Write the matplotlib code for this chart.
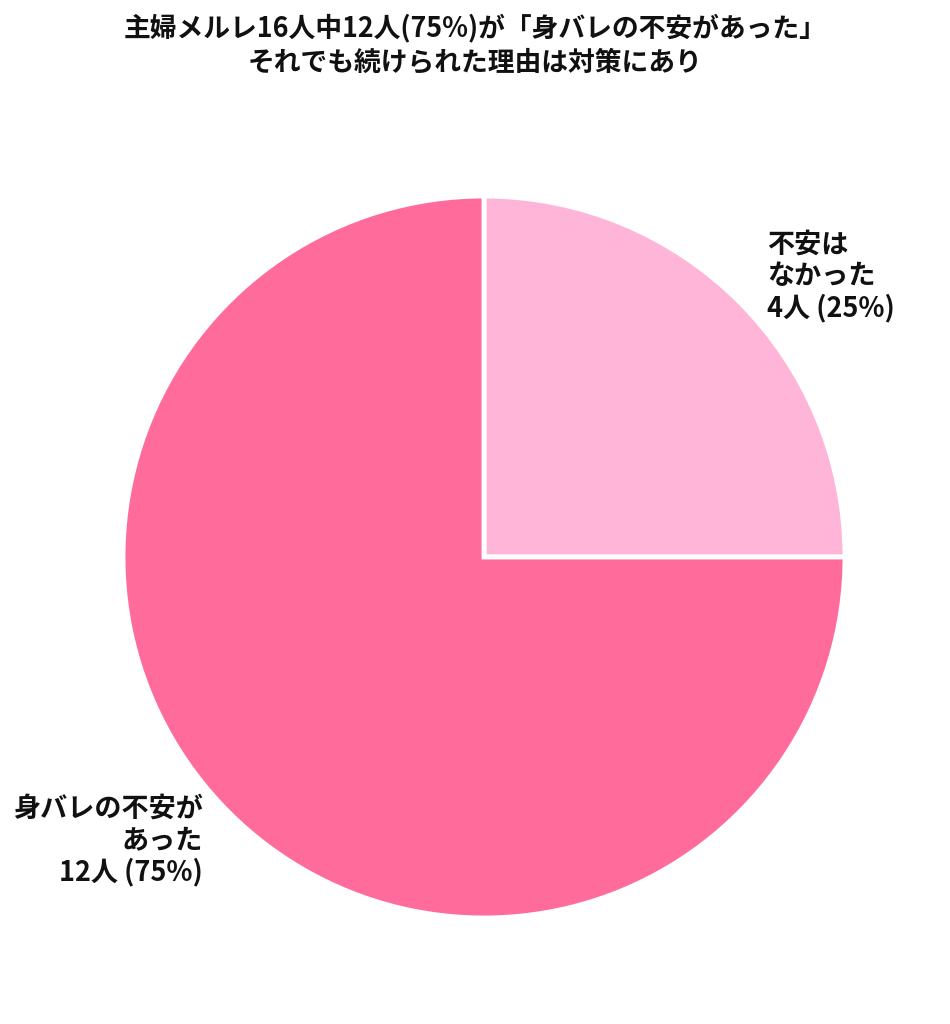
import matplotlib.pyplot as plt

plt.rcParams['font.family'] = ['Noto Sans CJK JP', 'DejaVu Sans']

# データ
labels = ['不安は\nなかった', '身バレの不安が\nあった']
counts = [4, 12]
colors = ['#FFB5D8', '#FF6B9B']
title = '主婦メルレ16人中12人(75%)が「身バレの不安があった」\nそれでも続けられた理由は対策にあり'

total = sum(counts)

fig = plt.figure(figsize=(9.5, 10.24), dpi=100)
# 円の中心 (484, 557) 半径 361 px
ax = fig.add_axes([(484 - 361) / 950, (1024 - 557 - 361) / 1024, 722 / 950, 722 / 1024])
wedges, _ = ax.pie(counts, colors=colors, startangle=90, counterclock=False,
                   radius=1.0, wedgeprops=dict(edgecolor='white', linewidth=3.5))
ax.set_xlim(-1, 1)
ax.set_ylim(-1, 1)
ax.set_aspect('equal')
ax.axis('off')

# ラベル
txt0 = '%s\n%d人 (%d%%)' % (labels[0], counts[0], round(counts[0] / total * 100))
txt1 = '%s\n%d人 (%d%%)' % (labels[1], counts[1], round(counts[1] / total * 100))
fig.text(767 / 950, 1 - 231 / 1024, txt0, ha='left', va='top', fontsize=19.5,
         fontweight='bold', linespacing=1.14, color='#111111')
fig.text(203 / 950, 1 - 795 / 1024, txt1, ha='right', va='top', fontsize=19.5,
         fontweight='bold', linespacing=1.14, color='#111111', multialignment='right')

fig.text(0.5, 1 - 13 / 1024, title, ha='center', va='top', fontsize=19.3,
         fontweight='bold', linespacing=1.3, color='#111111')

fig.savefig('out.png', dpi=100, facecolor='white')
